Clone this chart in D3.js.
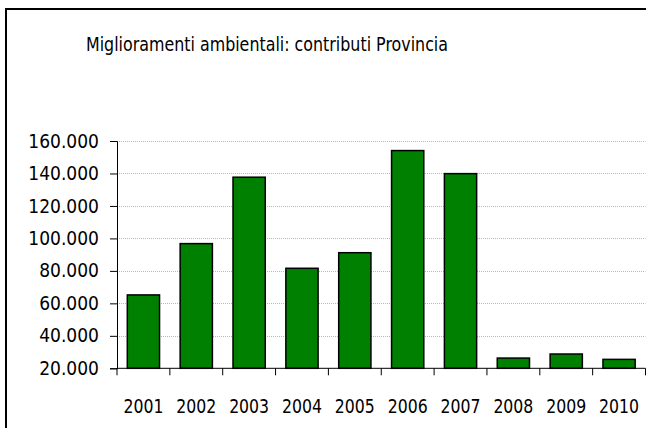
<!DOCTYPE html>
<html><head><meta charset="utf-8">
<script src="https://cdn.jsdelivr.net/npm/d3@7"></script>
<style>body{margin:0;background:#fff}svg{display:block}</style>
</head><body>
<script>
const title = "Miglioramenti ambientali: contributi Provincia";
const years = ["2001","2002","2003","2004","2005","2006","2007","2008","2009","2010"];
const values = [65200, 96800, 137700, 81600, 91200, 154100, 139900, 26300, 28800, 25500];
const yTicks = [20000, 40000, 60000, 80000, 100000, 120000, 140000, 160000];

(function () {
const W = 646, H = 428;
const svg = d3.select("body").append("svg").attr("width", W).attr("height", H);
svg.append("rect").attr("width", W).attr("height", H).attr("fill", "#fff");

// frame (left + top)
svg.append("path").attr("d", `M6,${H} V9 H${W}`).attr("fill", "none").attr("stroke", "#000").attr("stroke-width", 2);

const pl = 117, pr = 645.5, pt = 141, pb = 368.3;
const x = d3.scaleBand().domain(years).range([pl, pr]).paddingInner(0.39).paddingOuter(0.195);
const xb = d3.scaleBand().domain(years).range([pl, pr]);
const y = d3.scaleLinear().domain([20000, 160000]).range([pb, pt]);
const loc = d3.formatLocale({decimal: ",", thousands: ".", grouping: [3], currency: ["€", ""]});
const fmt = loc.format(",d");

const font = "'DejaVu Sans', Verdana, sans-serif";
function fitTo(sel, wfn) {
  sel.each(function (d, i) {
    d3.select(this).attr("textLength", wfn(this, d, i)).attr("lengthAdjust", "spacingAndGlyphs");
  });
}

// gridlines
svg.append("g").selectAll("line").data(yTicks.slice(1)).join("line")
  .attr("x1", pl).attr("x2", pr)
  .attr("y1", d => Math.round(y(d)) + 0.5).attr("y2", d => Math.round(y(d)) + 0.5)
  .attr("stroke", "#b8b8b8").attr("stroke-width", 1).attr("stroke-dasharray", "1,1");

// bars
svg.append("g").selectAll("rect").data(years).join("rect")
  .attr("x", d => x(d)).attr("width", x.bandwidth())
  .attr("y", (d, i) => y(values[i])).attr("height", (d, i) => pb - y(values[i]))
  .attr("fill", "#008000").attr("stroke", "#000").attr("stroke-width", 1.5);

// y axis
const yAxis = svg.append("g").attr("transform", `translate(${pl},0)`)
  .call(d3.axisLeft(y).tickValues(yTicks).tickFormat(fmt).tickSize(7).tickPadding(11));
yAxis.select(".domain").attr("stroke", "#000");
yAxis.selectAll("line").attr("stroke", "#000");
yAxis.selectAll("text").attr("font-family", font).attr("font-size", 19).attr("fill", "#000")
  .call(fitTo, (n) => n.getComputedTextLength() * 0.9);

// x axis with ticks at band boundaries
const xg = svg.append("g").attr("transform", `translate(0,${pb})`);
xg.append("line").attr("x1", pl).attr("x2", pr).attr("stroke", "#000");
xg.selectAll("line.t").data(years.concat(["end"])).join("line").attr("class", "t")
  .attr("x1", (d, i) => i < years.length ? xb(d) : pr).attr("x2", (d, i) => i < years.length ? xb(d) : pr)
  .attr("y1", 0).attr("y2", 7).attr("stroke", "#000");
xg.selectAll("text").data(years).join("text")
  .attr("x", d => xb(d) + xb.bandwidth() / 2).attr("y", 44.5)
  .attr("text-anchor", "middle").attr("font-family", font).attr("font-size", 19).attr("fill", "#000")
  .text(d => d)
  .call(fitTo, () => 40);

// title
svg.append("text").attr("x", 267).attr("y", 51).attr("text-anchor", "middle")
  .attr("font-family", font).attr("font-size", 20).attr("fill", "#000").text(title)
  .attr("textLength", 362).attr("lengthAdjust", "spacingAndGlyphs");
})();
</script>
</body></html>
